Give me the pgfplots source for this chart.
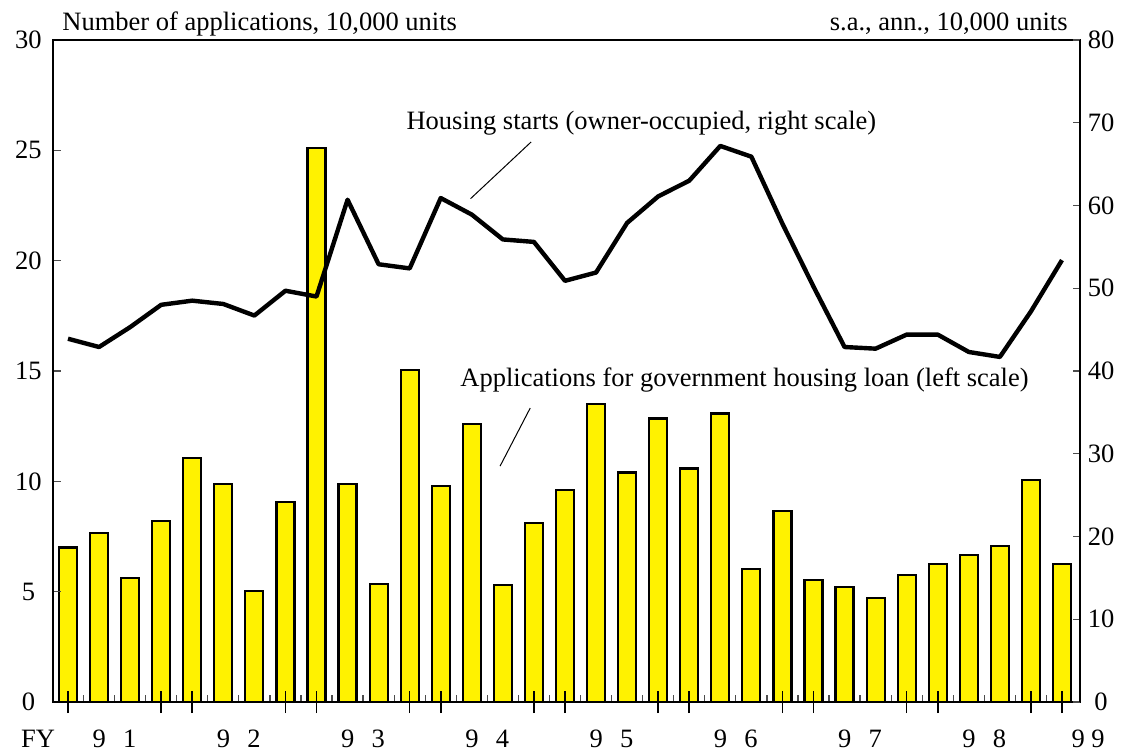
\documentclass[border=0pt]{standalone}
\usepackage{pgfplots}
\pgfplotsset{compat=1.18}
\usepackage{fontspec}
\setmainfont{Liberation Serif}
\newcommand{\yr}[2]{#1\hspace{0.65em}#2}
\begin{document}
\fontsize{13.25pt}{15pt}\selectfont
\begin{tikzpicture}
\useasboundingbox (0,0) rectangle (562.5pt,375.5pt);
\pgfplotsset{
  base/.style={
    at={(26.5pt,24.5pt)}, anchor=south west, scale only axis,
    width=513.5pt, height=331pt,
    xmin=-0.483, xmax=32.58,
    /pgf/number format/assume math mode=true,
  }
}
% Axis 1: bars, left scale
\begin{axis}[base, ymin=0, ymax=30, ytick={0,5,...,30}, ytick pos=left,
  xtick={0.5,1.5,...,31.5}, xtick pos=bottom,
  xticklabels={,\yr91,,,,\yr92,,,,\yr93,,,,\yr94,,,,\yr95,,,,\yr96,,,,\yr97,,,,\yr98,,},
  tick align=inside, major tick length=3.75pt,
  tick style={gray!60!black, line width=0.6pt},
  axis line style={line width=0.9pt},
  yticklabel style={anchor=center, inner sep=0pt, xshift=-12.25pt},
  xticklabel style={anchor=base, inner sep=0pt, yshift=-22.5pt},
  axis on top, clip=false]
\addplot[ybar, bar width=9pt, fill=yellow, draw=black, line width=1.1pt] coordinates {
(0,7.0) (1,7.67) (2,5.62) (3,8.2) (4,11.05) (5,9.87) (6,5.03) (7,9.06)
(8,25.1) (9,9.88) (10,5.33) (11,15.04) (12,9.78) (13,12.6) (14,5.3) (15,8.13)
(16,9.62) (17,13.5) (18,10.4) (19,12.85) (20,10.58) (21,13.07) (22,6.02) (23,8.64)
(24,5.52) (25,5.2) (26,4.71) (27,5.76) (28,6.26) (29,6.67) (30,7.06) (31,10.07) (32,6.26)
};
\node[anchor=base, inner sep=0pt, yshift=-22.5pt] at (axis cs:-0.966,0) {FY};
\node[anchor=base, inner sep=0pt, yshift=-22.5pt] at (axis cs:32.84,0) {9 9};
\node[anchor=base west, inner sep=0pt, xshift=4.5pt, yshift=4.5pt] at (rel axis cs:0,1) {Number of applications, 10,000 units};
\node[anchor=base east, inner sep=0pt, xshift=-6pt, yshift=4.5pt] at (rel axis cs:1,1) {s.a., ann., 10,000 units};
\node[anchor=base, inner sep=0pt] at (axis cs:18.46,25.96) {Housing starts (owner-occupied, right scale)};
\draw[line width=0.5pt] (axis cs:14.91,25.38) -- (axis cs:12.96,22.81);
\node[anchor=base, inner sep=0pt] at (axis cs:21.78,14.32) {Applications for government housing loan (left scale)};
\draw[line width=0.5pt] (axis cs:14.88,13.32) -- (axis cs:13.91,10.69);
\end{axis}
% Axis 3: major x ticks
\begin{axis}[base, ymin=0, ymax=1, hide y axis, axis x line*=bottom,
  xtick={0,3,4,7,8,11,12,15,16,19,20,23,24,27,28,31,32}, xticklabel={\relax},
  tick align=center, major tick length=11pt,
  tick style={black, line width=0.8pt},
  axis line style={line width=0.9pt}]
\end{axis}
% Axis 2: line, right scale
\begin{axis}[base, ymin=0, ymax=80, ytick={0,10,...,80},
  axis y line*=right, hide x axis,
  tick align=inside, major tick length=3.75pt,
  tick style={gray!60!black, line width=0.6pt},
  axis line style={line width=0.9pt},
  yticklabel style={anchor=center, inner sep=0pt, xshift=10.5pt}]
\addplot[black, line width=2.2pt, line join=round, mark=none] coordinates {
(0,43.9) (1,42.9) (2,45.3) (3,48.0) (4,48.5) (5,48.1) (6,46.7) (7,49.7)
(8,49.0) (9,60.7) (10,52.9) (11,52.4) (12,60.9) (13,58.9) (14,55.9) (15,55.6)
(16,50.9) (17,51.9) (18,57.9) (19,61.1) (20,63.0) (21,67.2) (22,65.9) (23,57.8)
(24,50.2) (25,42.9) (26,42.7) (27,44.4) (28,44.4) (29,42.3) (30,41.7) (31,47.2) (32,53.4)
};
\end{axis}
\end{tikzpicture}
\end{document}
